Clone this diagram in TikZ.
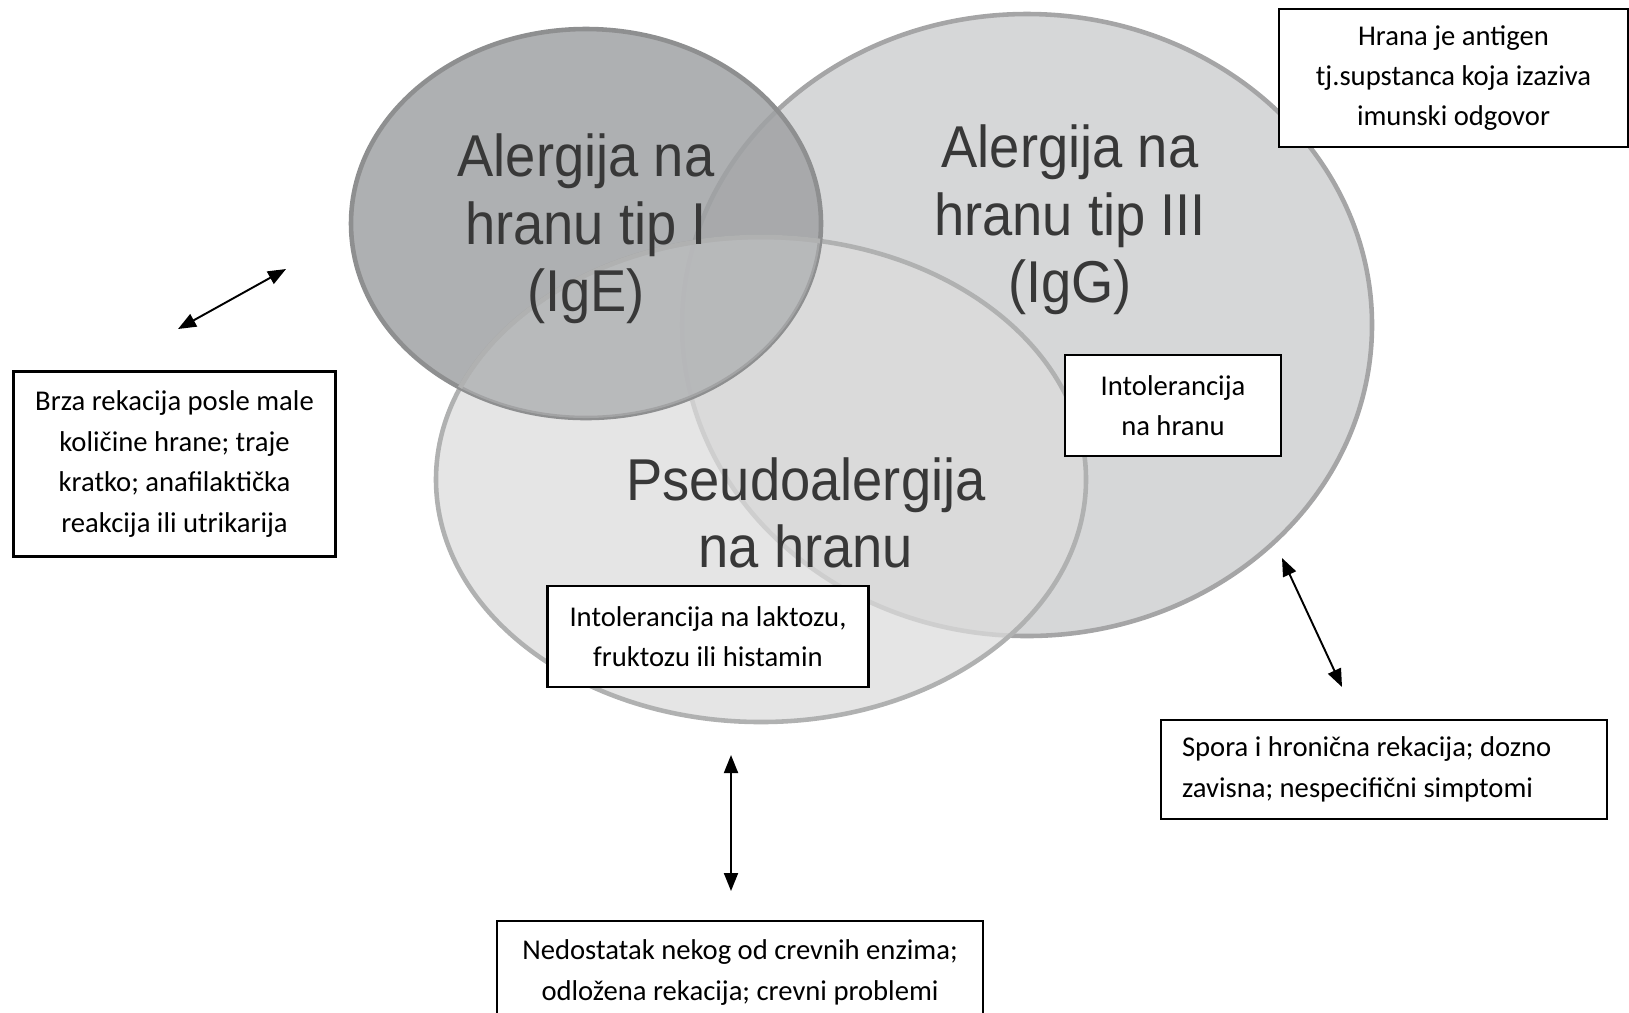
\documentclass[tikz,border=0pt]{standalone}
\usepackage{fontspec}
\setmainfont{Carlito}
\newfontfamily\arialfont[FakeStretch=0.92]{Liberation Sans}
\usetikzlibrary{arrows.meta}

\definecolor{tipIcol}{HTML}{A0A2A4}
\definecolor{tipIIIcol}{HTML}{D6D7D8}
\definecolor{pseudocol}{HTML}{DCDCDC}
\definecolor{rubcol}{HTML}{8E8F90}
\definecolor{natpiscol}{HTML}{383838}

\tikzset{
  okvir/.style={draw=black, line width=0.6pt, fill=white, align=center,
    font=\fontsize{8.15}{11.5}\selectfont, inner sep=0pt},
  natpis/.style={align=center, text=natpiscol,
    font=\arialfont\fontsize{16.8}{19.2}\selectfont},
  strelica/.style={line width=0.55pt, {Triangle[length=0.18cm,width=0.14cm]}-{Triangle[length=0.18cm,width=0.14cm]}}
}

\begin{document}
\begin{tikzpicture}
\useasboundingbox (0,0) rectangle (16.29,-10.12);

% krugovi
\draw[fill=tipIIIcol, draw=rubcol!80, line width=1.3pt] (10.27,-3.25) ellipse (3.45 and 3.11);
\draw[fill=pseudocol, fill opacity=0.75, draw=rubcol!70, line width=1.3pt] (7.61,-4.795) ellipse (3.25 and 2.425);
\draw[fill=tipIcol, fill opacity=0.85, draw=rubcol, line width=1.3pt] (5.86,-2.235) ellipse (2.35 and 1.945);
\begin{scope}
\clip (5.86,-2.235) ellipse (2.35 and 1.945);
\draw[fill=white, fill opacity=0.18, draw=rubcol!70, line width=1.3pt] (7.61,-4.795) ellipse (3.25 and 2.425);
\end{scope}

\node[natpis] (tipI) at (5.86,-2.29) {Alergija na\\hranu tip I\\(IgE)};
\node[natpis] (tipIII) at (10.70,-2.20) {Alergija na\\hranu tip III\\(IgG)};
\node[natpis] (pseudo) at (8.06,-5.13) {Pseudoalergija\\na hranu};

% okviri
\node[okvir, minimum width=3.22cm, minimum height=1.85cm] (brza) at (1.745,-4.64)
  {Brza rekacija posle male\\količine hrane; traje\\kratko; anafilaktička\\reakcija ili utrikarija};
\node[okvir, minimum width=3.49cm, minimum height=1.38cm] (antigen) at (14.535,-0.78)
  {Hrana je antigen\\tj.supstanca koja izaziva\\imunski odgovor};
\node[okvir, minimum width=2.16cm, minimum height=1.01cm] (intol) at (11.73,-4.055)
  {Intolerancija\\na hranu};
\node[okvir, minimum width=3.21cm, minimum height=1.01cm] (laktoza) at (7.08,-6.365)
  {Intolerancija na laktozu,\\fruktozu ili histamin};
\node[okvir, minimum width=4.46cm, minimum height=0.99cm, align=flush left, text width=4.04cm] (spora) at (13.84,-7.695)
  {Spora i hronična rekacija; dozno\\zavisna; nespecifični simptomi};
\node[okvir, minimum width=4.86cm, minimum height=1.03cm] (nedostatak) at (7.40,-9.725)
  {Nedostatak nekog od crevnih enzima;\\odložena rekacija; crevni problemi};

% strelice
\coordinate (s1a) at (1.78,-3.29);
\coordinate (s1b) at (2.86,-2.69);
\coordinate (s2a) at (7.31,-7.55);
\coordinate (s2b) at (7.31,-8.91);
\coordinate (s3a) at (12.82,-5.58);
\coordinate (s3b) at (13.42,-6.87);
\draw[strelica] (s1a) -- (s1b);
\draw[strelica] (s2a) -- (s2b);
\draw[strelica] (s3a) -- (s3b);
\end{tikzpicture}
\end{document}
